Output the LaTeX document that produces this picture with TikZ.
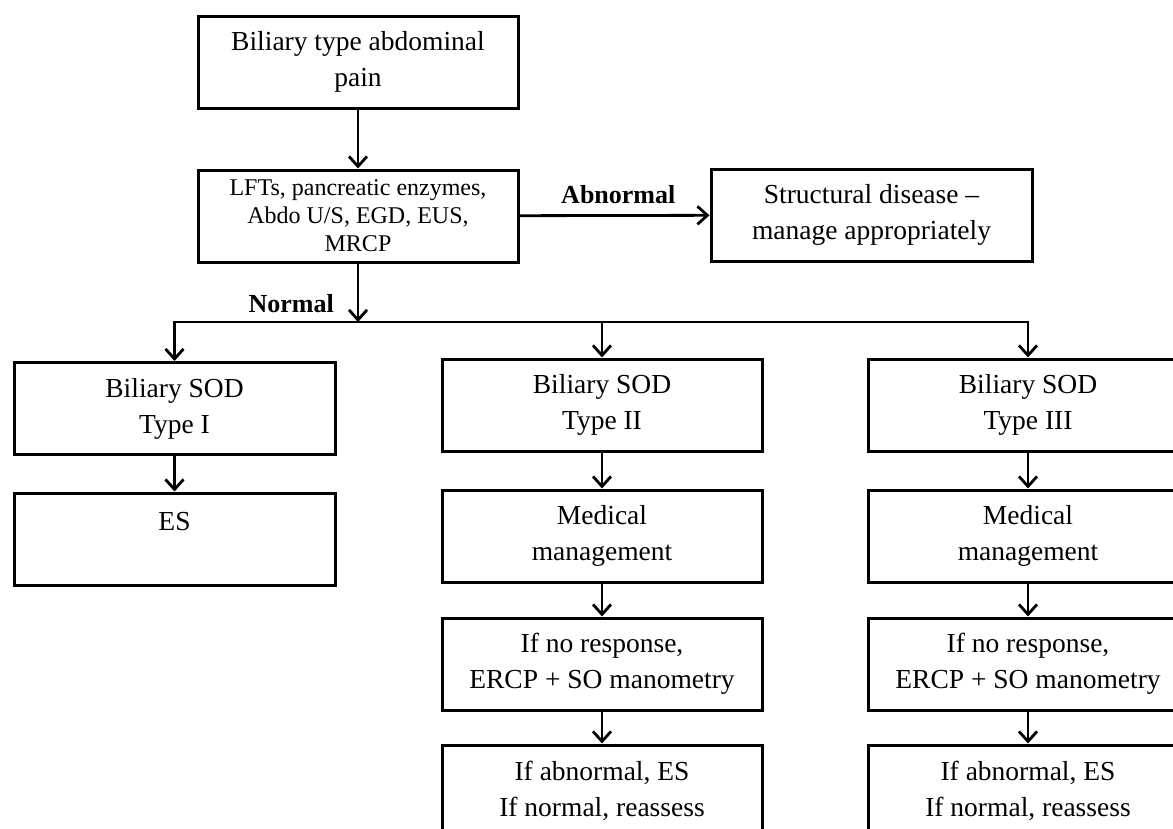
\documentclass[tikz,border=0pt]{standalone}
\usepackage{fontspec}
\setmainfont{Liberation Serif}
\usetikzlibrary{arrows.meta}
\begin{document}
\begin{tikzpicture}[x=1pt,y=-1pt,
  box/.style={draw=black, line width=3pt, minimum width=320pt, minimum height=92pt,
    align=center, inner sep=0pt, font=\fontsize{27.5}{36}\selectfont},
  smallbox/.style={box, font=\fontsize{24}{28}\selectfont},
  arr/.style={line width=2.8pt, -{Straight Barb[length=10pt,width=18pt,line width=2.8pt]}},
  lbl/.style={font=\fontsize{26}{30}\selectfont\bfseries, inner sep=0pt}]
\useasboundingbox (0,0) rectangle (1173,828);
\clip (0,0) rectangle (1173,828);
\fill[white] (0,0) rectangle (1173,828);

% top part
\node[box] (pain) at (358,62) {Biliary type abdominal\\pain};
\node[smallbox] (tests) at (358,216) {LFTs, pancreatic enzymes,\\Abdo U/S, EGD, EUS,\\MRCP};
\node[box, minimum width=321pt] (struct) at (871.5,215) {Structural disease –\\manage appropriately};
\coordinate (split) at (358,322);

% column I
\node[box, minimum width=321pt] (t1) at (174.5,408.5) {Biliary SOD\\Type I};
\node[box, minimum width=321pt] (es) at (174.5,539) {ES\\\mbox{}};

% column II
\node[box] (t2) at (602,405) {Biliary SOD\\Type II};
\node[box] (med2) at (602,536) {Medical\\management};
\node[box] (nr2) at (602,664) {If no response,\\ERCP + SO manometry};
\node[box] (ab2) at (602,791) {If abnormal, ES\\If normal, reassess};

% column III
\node[box] (t3) at (1028,405) {Biliary SOD\\Type III};
\node[box] (med3) at (1028,536) {Medical\\management};
\node[box] (nr3) at (1028,664) {If no response,\\ERCP + SO manometry};
\node[box] (ab3) at (1028,791) {If abnormal, ES\\If normal, reassess};

% connectors
\draw[arr] (pain) -- (tests);
\draw[arr] (tests) -- node[lbl, anchor=base, yshift=12pt, pos=0.52] (abn) {Abnormal} (struct);
\draw[arr] (tests) -- (split);
\node[lbl, anchor=base east] (nrm) at ([xshift=-24pt,yshift=10pt]split) {Normal};
\draw[arr] (split) -| (t1);
\draw[arr] (split) -| (t2);
\draw[arr] (split) -| (t3);

\draw[arr] (t1) -- (es);
\draw[arr] (t2) -- (med2);
\draw[arr] (med2) -- (nr2);
\draw[arr] (nr2) -- (ab2);
\draw[arr] (t3) -- (med3);
\draw[arr] (med3) -- (nr3);
\draw[arr] (nr3) -- (ab3);
\end{tikzpicture}
\end{document}
